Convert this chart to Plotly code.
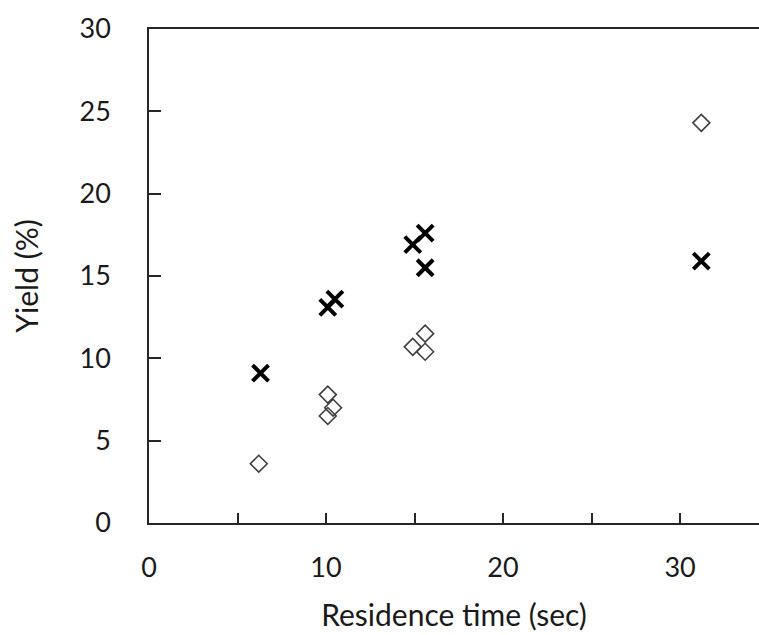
import plotly.graph_objects as go

cross_x = [6.3, 10.1, 10.5, 14.9, 15.6, 15.6, 31.2]
cross_y = [9.1, 13.1, 13.6, 16.9, 17.6, 15.5, 15.9]
diam_x = [6.2, 10.1, 10.4, 10.1, 15.6, 14.9, 15.6, 31.2]
diam_y = [3.6, 7.8, 7.0, 6.5, 11.5, 10.7, 10.4, 24.3]

x_tick_vals = [0, 5, 10, 15, 20, 25, 30]
x_tick_text = ["0", "", "10", "", "20", "", "30"]
y_ticks = [0, 5, 10, 15, 20, 25, 30]

font = "Lato"
ink = "#262626"
fig = go.Figure()
fig.add_trace(go.Scatter(x=diam_x, y=diam_y, mode="markers",
                         marker=dict(symbol="diamond-open", size=13, color="#404040",
                                     line=dict(width=1.6, color="#404040")),
                         showlegend=False))
fig.add_trace(go.Scatter(x=cross_x, y=cross_y, mode="markers",
                         marker=dict(symbol="x-thin-open", size=16, color="black",
                                     line=dict(width=4, color="black")),
                         showlegend=False))

fig.update_layout(
    width=759, height=635,
    margin=dict(l=149, r=0, t=29, b=112, autoexpand=False),
    plot_bgcolor="white", paper_bgcolor="white",
    font=dict(family=font, size=27, color="#1a1a1a"),
    xaxis=dict(range=[0, 34.46], tickvals=x_tick_vals, ticktext=x_tick_text,
               ticks="inside", ticklen=10, tickwidth=1.5, tickcolor=ink,
               showline=True, linecolor=ink, linewidth=1.5, mirror=True,
               showgrid=False, zeroline=False, ticklabelstandoff=20,
               automargin=False,
               title=dict(text="Residence time (sec)", font=dict(size=30), standoff=23)),
    yaxis=dict(range=[0, 30], tickvals=y_ticks,
               ticks="inside", ticklen=12, tickwidth=1.5, tickcolor=ink,
               showline=True, linecolor=ink, linewidth=1.5, mirror=False,
               showgrid=False, zeroline=False, ticklabelstandoff=31,
               automargin=False,
               title=dict(text="Yield (%)", font=dict(size=30), standoff=32)),
)
fig.write_html("out.html", config={"displayModeBar": False},
               post_script="document.body.style.margin='0';document.body.style.overflow='hidden';")
